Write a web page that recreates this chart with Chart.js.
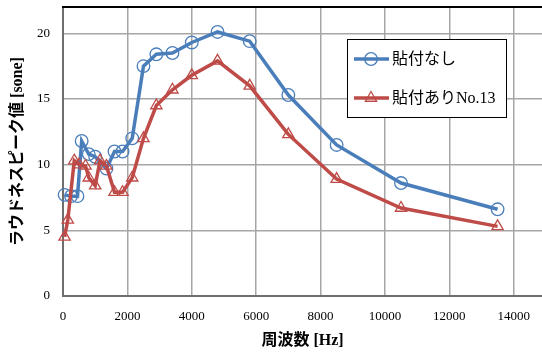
<!DOCTYPE html>
<html>
<head>
<meta charset="utf-8">
<script src="https://cdn.jsdelivr.net/npm/chart.js@4"></script>
<style>
html,body{margin:0;padding:0;background:#fff;}
#wrap{width:542px;height:354px;position:relative;}
</style>
</head>
<body>
<div id="wrap"><canvas id="c" width="542" height="354"></canvas></div>
<script>
// ---- data ----
const seriesNames = ["貼付なし", "貼付ありNo.13"];
const freqBlue = [50, 250, 450, 580, 800, 1000, 1350, 1600, 1850, 2150, 2500, 2900, 3400, 4000, 4800, 5800, 7000, 8500, 10500, 13500];
const valBlue  = [7.7, 7.6, 7.6, 11.8, 10.8, 10.6, 9.7, 11.0, 11.0, 12.0, 17.5, 18.4, 18.5, 19.3, 20.1, 19.4, 15.3, 11.5, 8.6, 6.6];
const freqRed  = [50, 150, 350, 500, 700, 800, 1000, 1150, 1350, 1600, 1850, 2150, 2500, 2900, 3400, 4000, 4800, 5800, 7000, 8500, 10500, 13500];
const valRed   = [4.5, 5.8, 10.3, 10.0, 9.9, 9.0, 8.4, 10.3, 9.9, 7.9, 7.9, 9.0, 12.0, 14.5, 15.7, 16.8, 17.9, 16.0, 12.3, 8.9, 6.7, 5.3];
const xTicks = [0, 2000, 4000, 6000, 8000, 10000, 12000, 14000];
const yTicks = [0, 5, 10, 15, 20];
const xTitle = "周波数 [Hz]";
const yTitle = "ラウドネスピーク値 [sone]";

const BLUE = "#4a7ebb";
const RED = "#be4b48";
const FONT = "'Liberation Serif', 'Noto Sans CJK JP', serif";

function pts(xs, ys){ return xs.map((x,i)=>({x:x, y:ys[i]})); }

const frame = {
  id:'frame',
  afterDatasetsDraw(chart){
    const a = chart.chartArea, ctx = chart.ctx;
    ctx.save();
    ctx.strokeStyle = '#000';
    ctx.lineWidth = 2;
    ctx.beginPath(); ctx.moveTo(a.left-1, a.top); ctx.lineTo(a.right, a.top); ctx.stroke();
    ctx.restore();
  }
};

const legendBox = {
  id:'legendBox',
  afterDraw(chart){
    const ctx = chart.ctx;
    ctx.save();
    ctx.fillStyle = '#fff';
    ctx.fillRect(347, 39, 159, 78);
    ctx.strokeStyle = '#000';
    ctx.lineWidth = 1;
    ctx.strokeRect(347.5, 39.5, 159, 78);
    const items = [
      {y:59, color:BLUE, style:'circle', r:6.3, text:seriesNames[0]},
      {y:98, color:RED, style:'triangle', r:6.5, text:seriesNames[1]}
    ];
    items.forEach(it=>{
      ctx.strokeStyle = it.color;
      ctx.lineWidth = 3.5;
      ctx.beginPath(); ctx.moveTo(354, it.y); ctx.lineTo(389, it.y); ctx.stroke();
      ctx.fillStyle = 'rgba(255,255,255,0)';
      ctx.strokeStyle = it.color;
      ctx.lineWidth = 1.3;
      Chart.helpers.drawPoint(ctx, {pointStyle:it.style, radius:it.r, borderWidth:1.3}, 371, it.y);
      ctx.fillStyle = '#000';
      ctx.font = "16px " + FONT;
      ctx.textBaseline = 'middle';
      ctx.textAlign = 'left';
      ctx.fillText(it.text, 392, it.y + 1);
    });
    ctx.restore();
  }
};

new Chart(document.getElementById('c'), {
  type: 'scatter',
  data: {
    datasets: [
      {label: seriesNames[0], data: pts(freqBlue, valBlue), showLine:true, tension:0,
       borderColor: BLUE, borderWidth:3.5, pointStyle:'circle', pointRadius:6.3,
       pointBorderColor: BLUE, pointBorderWidth:1.3, pointBackgroundColor:'rgba(255,255,255,0)', order:2, clip:false},
      {label: seriesNames[1], data: pts(freqRed, valRed), showLine:true, tension:0,
       borderColor: RED, borderWidth:3.5, pointStyle:'triangle', pointRadius:6.5,
       pointBorderColor: RED, pointBorderWidth:1.3, pointBackgroundColor:'rgba(255,255,255,0)', order:1, clip:false}
    ]
  },
  options: {
    responsive:false,
    animation:false,
    devicePixelRatio:1,
    layout:{autoPadding:false, padding:{top:7,right:0,left:0,bottom:0}},
    plugins:{legend:{display:false}, tooltip:{enabled:false}},
    scales:{
      x:{
        type:'linear', min:0, max:14880,
        afterBuildTicks(s){ s.ticks = xTicks.map(v=>({value:v})); },
        ticks:{color:'#000', font:{family:FONT, size:13}, padding:13, maxRotation:0, autoSkip:false,
               callback:(v)=>String(v)},
        grid:{color:'#a6a6a6', lineWidth:1.5, drawTicks:false},
        border:{color:'#6e6e6e', width:2},
        title:{display:true, text:xTitle, color:'#000', font:{family:FONT, size:16, weight:'bold'}, padding:{top:0,bottom:4}},
        afterFit(s){ s.height = 58; s.paddingLeft = 0; s.paddingRight = 0; }
      },
      y:{
        min:0, max:22,
        afterBuildTicks(s){ s.ticks = yTicks.map(v=>({value:v})); },
        ticks:{color:'#000', font:{family:FONT, size:13}, padding:13, autoSkip:false,
               callback:(v)=>String(v)},
        grid:{color:'#a6a6a6', lineWidth:1.5, drawTicks:false},
        border:{color:'#6e6e6e', width:2},
        title:{display:true, text:yTitle, color:'#000', font:{family:FONT, size:16, weight:'bold'}, padding:{top:8,bottom:0}},
        afterFit(s){ s.width = 63; s.paddingTop = 0; s.paddingBottom = 0; }
      }
    }
  },
  plugins:[frame, legendBox]
});
</script>
</body>
</html>
